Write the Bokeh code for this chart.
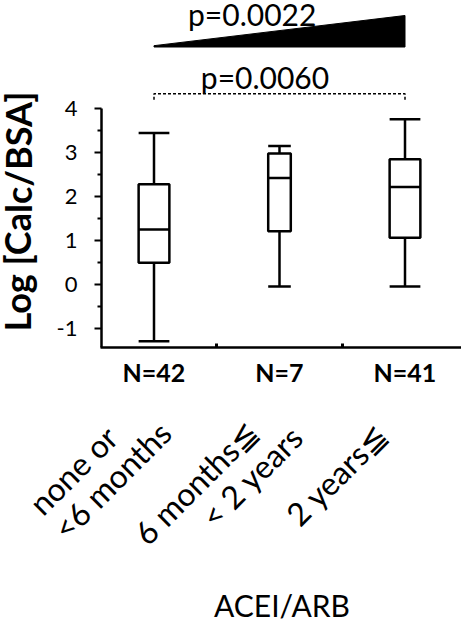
from bokeh.plotting import figure
from bokeh.models import FixedTicker, Label, Range1d, ColumnDataSource
from bokeh.core.properties import value
from bokeh.embed import file_html
from bokeh.resources import INLINE

# ---------------- data ----------------
categories = ["none or\n<6 months", "6 months\u2266\n< 2 years", "2 years\u2266"]
n_counts = [42, 7, 41]
lows = [-1.30, -0.05, -0.05]
q1 = [0.49, 1.21, 1.06]
medians = [1.25, 2.42, 2.22]
q3 = [2.28, 2.98, 2.85]
highs = [3.45, 3.15, 3.76]
y_ticks = [-1, 0, 1, 2, 3, 4]
y_minor_ticks = [-0.5, 0.5, 1.5, 2.5, 3.5]
p_trend = "p=0.0022"
p_pair = "p=0.0060"
x_title = "ACEI/ARB"
y_title = "Log [Calc/BSA]"

# ---------------- layout constants ----------------
W, H = 461, 621
PX_X = 125.5           # pixels per category step
PX_Y = 43.88           # pixels per y unit
X1_PX = 153.5          # canvas x of first category
Y0_PX = 283.8          # canvas y of y=0
AXIS_X_PX = 101        # canvas x of y-axis line
AXIS_Y_PX = 347        # canvas y of x-axis line
box_widths = [0.245, 0.18, 0.245]
FONT = "Lato"

def cx(px):
    return 1 + (px - X1_PX) / PX_X

def cy(py):
    return (Y0_PX - py) / PX_Y

xs = list(range(1, len(categories) + 1))
x0, x1 = cx(0), cx(W)
y0, y1 = cy(H), cy(0)

p = figure(width=W, height=H, x_range=Range1d(x0, x1), y_range=Range1d(y0, y1),
           output_backend="svg", toolbar_location=None,
           min_border_left=0, min_border_right=0, min_border_top=0,
           min_border_bottom=0)
p.xgrid.visible = False
p.ygrid.visible = False
p.outline_line_color = None
p.background_fill_color = "white"
p.border_fill_color = "white"

src = ColumnDataSource(dict(
    x=xs, lo=lows, q1=q1, med=medians, q3=q3, hi=highs,
    left=[x - w / 2 for x, w in zip(xs, box_widths)],
    right=[x + w / 2 for x, w in zip(xs, box_widths)],
))

LW = 2.5
p.segment(x0="x", y0="q3", x1="x", y1="hi", source=src, line_color="black", line_width=LW)
p.segment(x0="x", y0="q1", x1="x", y1="lo", source=src, line_color="black", line_width=LW)
p.segment(x0="left", y0="hi", x1="right", y1="hi", source=src, line_color="black", line_width=LW)
p.segment(x0="left", y0="lo", x1="right", y1="lo", source=src, line_color="black", line_width=LW)
p.quad(left="left", right="right", bottom="q1", top="q3", source=src,
       fill_color="white", line_color="black", line_width=LW)
p.segment(x0="left", y0="med", x1="right", y1="med", source=src, line_color="black", line_width=LW)

# trend wedge
wb, wt = cy(46.5), cy(15)
p.patch(x=[xs[0], xs[0], xs[-1], xs[-1]], y=[wb, wb + 0.03, wt, wb],
        fill_color="black", line_color="black", line_width=1)
p.text(x=[cx(251.7)], y=[cy(13)], text=[p_trend], text_align="center",
       text_baseline="middle", text_font=value(FONT), text_font_size="30px",
       text_color="black")

# pairwise bracket
bh, bl = cy(93.3), cy(99.3)
p.line(x=[xs[0], xs[0], xs[-1], xs[-1]], y=[bl, bh, bh, bl], line_color="black",
       line_width=1.5, line_dash="3 2")
p.text(x=[cx(264.5)], y=[cy(76)], text=[p_pair], text_align="center",
       text_baseline="middle", text_font=value(FONT), text_font_size="30px",
       text_color="black")

# axes
ya = p.yaxis[0]
ya.fixed_location = cx(AXIS_X_PX)
ya.ticker = FixedTicker(ticks=y_ticks, minor_ticks=y_minor_ticks)
ya.major_label_overrides = {t: str(t) for t in y_ticks}
ya.bounds = (cy(AXIS_Y_PX), 4)
ya.axis_line_width = LW
ya.major_tick_line_width = 2
ya.minor_tick_line_width = 2
ya.major_tick_out = 7
ya.major_tick_in = 0
ya.minor_tick_out = 4
ya.minor_tick_in = 0
ya.major_label_standoff = 17
ya.major_label_text_font = FONT
ya.major_label_text_font_size = "22px"
ya.major_label_text_color = "black"

xa = p.xaxis[0]
xa.fixed_location = cy(AXIS_Y_PX)
xa.bounds = (cx(AXIS_X_PX - 1), x1)
xa.ticker = FixedTicker(ticks=xs, minor_ticks=[x + 0.5 for x in xs[:-1]])
xa.major_label_overrides = {x: f"N={n}" for x, n in zip(xs, n_counts)}
xa.axis_line_width = LW
xa.major_tick_in = 0
xa.major_tick_out = 0
xa.minor_tick_in = 4
xa.minor_tick_out = 0
xa.minor_tick_line_width = 3
xa.major_label_standoff = 9
xa.major_label_text_font = FONT
xa.major_label_text_font_size = "25px"
xa.major_label_text_font_style = "bold"
xa.major_label_text_color = "black"

# rotated category labels (line anchors: px offset from category, canvas y)
line_anchor = [[(-119.5, 508), (-95.5, 533)], [(-140, 538), (-73, 521)], [(-113.5, 519)]]
for i, cat in enumerate(categories):
    for line, (dx, py) in zip(cat.split("\n"), line_anchor[i]):
        p.add_layout(Label(x=xs[i] + dx / PX_X, y=cy(py), text=line, angle=0.785398,
                           text_align="left", text_baseline="alphabetic",
                           text_font=FONT, text_font_size="32px", text_color="black"))

p.add_layout(Label(x=cx(281.5), y=cy(604), text=x_title, text_align="center",
                   text_baseline="middle", text_font=FONT, text_font_size="30px",
                   text_color="black"))
p.add_layout(Label(x=cx(17), y=cy(211), text=y_title, angle=1.570796,
                   text_align="center", text_baseline="middle", text_font=FONT,
                   text_font_size="36px", text_font_style="bold", text_color="black"))

open("out.html", "w").write(file_html(p, INLINE))
